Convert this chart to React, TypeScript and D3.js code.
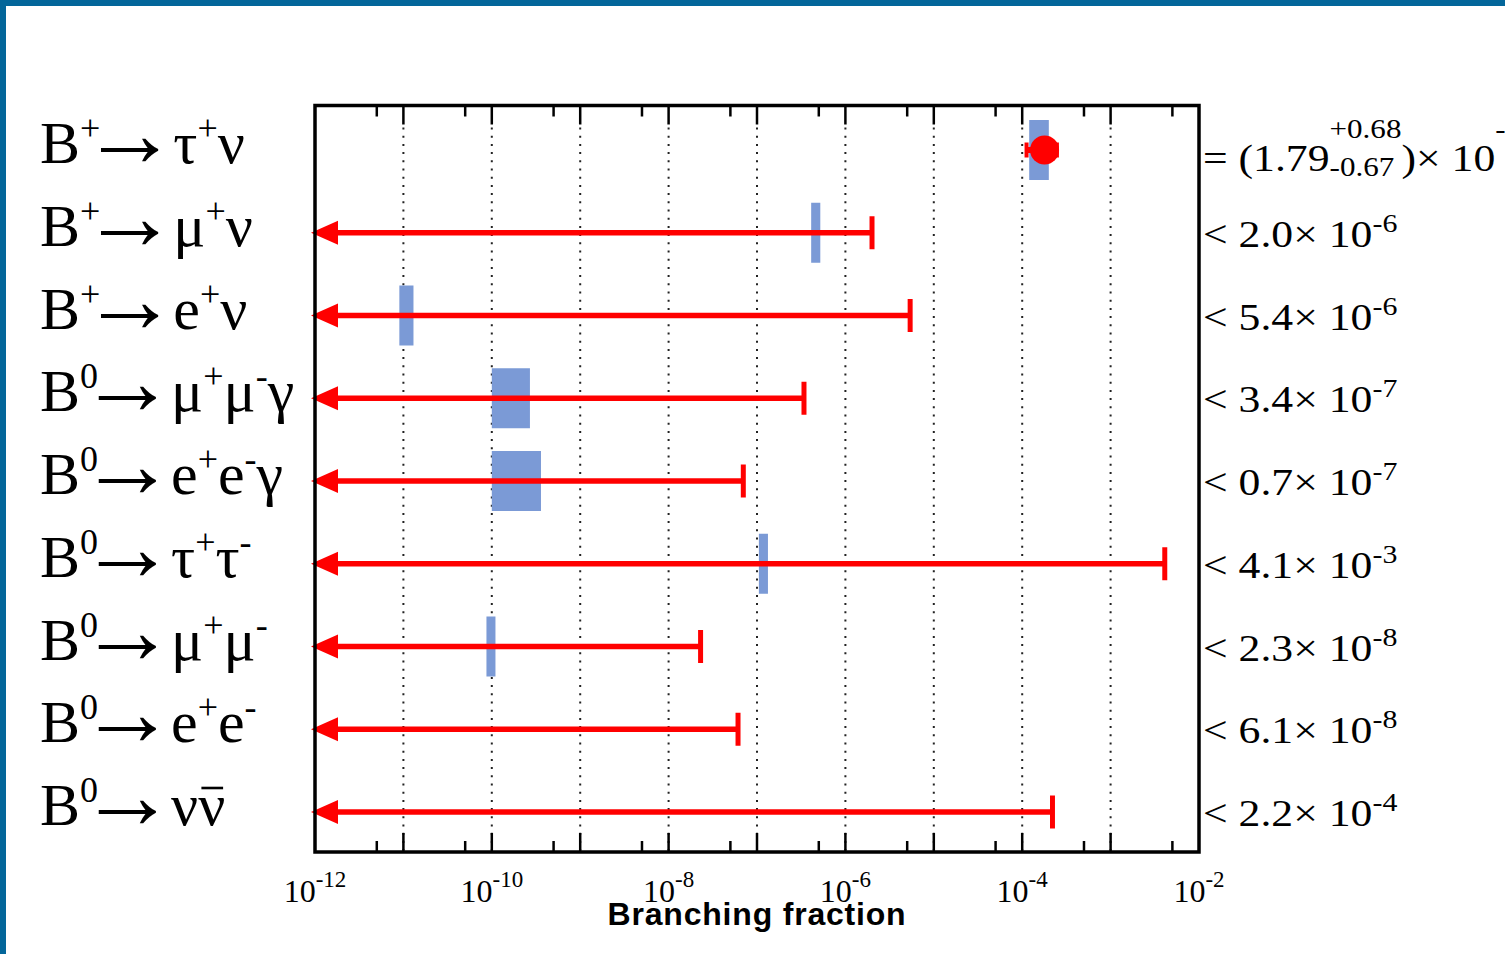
import React from "react";
import * as d3 from "d3";

// ---- data ---------------------------------------------------------------
type Seg = {
  t: string;
  s?: "sup" | "sub";
  bar?: boolean;
  stack?: [string, string];
  arrow?: boolean;
};

const ARROW: Seg = { t: "→", arrow: true };

const decayLabels: Seg[][] = [
  [{ t: "B" }, { t: "+", s: "sup" }, ARROW, { t: " τ" }, { t: "+", s: "sup" }, { t: "ν" }],
  [{ t: "B" }, { t: "+", s: "sup" }, ARROW, { t: " μ" }, { t: "+", s: "sup" }, { t: "ν" }],
  [{ t: "B" }, { t: "+", s: "sup" }, ARROW, { t: " e" }, { t: "+", s: "sup" }, { t: "ν" }],
  [{ t: "B" }, { t: "0", s: "sup" }, ARROW, { t: " μ" }, { t: "+", s: "sup" }, { t: "μ" }, { t: "-", s: "sup" }, { t: "γ" }],
  [{ t: "B" }, { t: "0", s: "sup" }, ARROW, { t: " e" }, { t: "+", s: "sup" }, { t: "e" }, { t: "-", s: "sup" }, { t: "γ" }],
  [{ t: "B" }, { t: "0", s: "sup" }, ARROW, { t: " τ" }, { t: "+", s: "sup" }, { t: "τ" }, { t: "-", s: "sup" }],
  [{ t: "B" }, { t: "0", s: "sup" }, ARROW, { t: " μ" }, { t: "+", s: "sup" }, { t: "μ" }, { t: "-", s: "sup" }],
  [{ t: "B" }, { t: "0", s: "sup" }, ARROW, { t: " e" }, { t: "+", s: "sup" }, { t: "e" }, { t: "-", s: "sup" }],
  [{ t: "B" }, { t: "0", s: "sup" }, ARROW, { t: " ν" }, { t: "ν", bar: true }],
];

// 90% CL upper limits (mantissa, exponent); first row is a measurement
const limitMantissa: (string | null)[] = [null, "2.0", "5.4", "3.4", "0.7", "4.1", "2.3", "6.1", "2.2"];
const limitExponent: (number | null)[] = [null, -6, -6, -7, -7, -3, -8, -8, -4];

// measured B+ -> tau+ nu
const measRow = 0;
const measCentral = "1.79";
const measPlus = "0.68";
const measMinus = "0.67";
const measExponent = -4;

// Standard Model expectation ranges
const smLow: (number | null)[] = [1.2e-4, 4.1e-7, 0.9e-11, 1.0e-10, 1.0e-10, 1.05e-7, 0.87e-10, null, null];
const smHigh: (number | null)[] = [2.0e-4, 5.2e-7, 1.3e-11, 2.7e-10, 3.6e-10, 1.33e-7, 1.1e-10, null, null];

const xTickExponents = [-12, -10, -8, -6, -4, -2];
const xTitle = "Branching fraction";

// ---- styling --------------------------------------------------------------
const W = 1505;
const H = 954;
const SERIF = "'Liberation Serif', 'Times New Roman', serif";
const SANS = "'Liberation Sans', Arial, sans-serif";
const RED = "#ff0000";
const SM_BLUE = "#7b9ad6";
const PAGE_BLUE = "#03669a";

// reaction arrow geometry inside the decay labels
const ARROW_INK_W = 58;
const ARROW_LIFT = 13;

let ctx: CanvasRenderingContext2D | null = null;
function getCtx() {
  if (!ctx) ctx = document.createElement("canvas").getContext("2d");
  return ctx;
}
function textWidth(t: string, size: number, family = SERIF, weight = "normal") {
  const c = getCtx();
  if (!c) return t.length * size * 0.5;
  c.font = `${weight} ${size}px ${family}`;
  return c.measureText(t).width;
}
function inkBox(t: string, size: number, family = SERIF) {
  const c = getCtx();
  if (!c) return { l: 0, r: size * 0.6, a: size * 0.3, d: 0 };
  c.font = `normal ${size}px ${family}`;
  const m = c.measureText(t);
  return {
    l: -m.actualBoundingBoxLeft,
    r: m.actualBoundingBoxRight,
    a: m.actualBoundingBoxAscent,
    d: m.actualBoundingBoxDescent,
  };
}

type Item = { t: string; x: number; dy: number; size: number; bar?: boolean; w: number };

function layout(
  segs: Seg[],
  size: number,
  supSize: number,
  supRaise: number,
  subLower: number
): Item[] {
  const items: Item[] = [];
  let x = 0;
  for (const s of segs) {
    if (s.stack) {
      const w1 = textWidth(s.stack[0], supSize);
      const w2 = textWidth(s.stack[1], supSize);
      items.push({ t: s.stack[0], x, dy: -supRaise, size: supSize, w: w1 });
      items.push({ t: s.stack[1], x, dy: subLower, size: supSize, w: w2 });
      x += Math.max(w1, w2);
      continue;
    }
    if (s.arrow) {
      // scale the arrow glyph so its ink spans ARROW_INK_W
      const ref = inkBox(s.t, 100);
      const k = ARROW_INK_W / Math.max(1, ref.r - ref.l);
      const sz = 100 * k;
      const b = inkBox(s.t, sz);
      const dy = (b.a - b.d) / 2 - ARROW_LIFT;
      items.push({ t: s.t, x: x - b.l, dy, size: sz, w: ARROW_INK_W });
      x += ARROW_INK_W;
      continue;
    }
    const sz = s.s ? supSize : size;
    const dy = s.s === "sup" ? -supRaise : s.s === "sub" ? subLower : 0;
    const w = textWidth(s.t, sz);
    items.push({ t: s.t, x, dy, size: sz, bar: s.bar, w });
    x += w;
  }
  return items;
}

function RichText({
  items,
  x,
  y,
  sx = 1,
  barLift = 0,
}: {
  items: Item[];
  x: number;
  y: number;
  sx?: number;
  barLift?: number;
}) {
  return (
    <g transform={`translate(${x},${y}) scale(${sx},1)`} fontFamily={SERIF} fill="#000">
      {items.map((it, i) => (
        <g key={i}>
          <text x={it.x} y={it.dy} fontSize={it.size} style={{ whiteSpace: "pre" }}>
            {it.t}
          </text>
          {it.bar && (
            <line
              x1={it.x + it.w * 0.12}
              x2={it.x + it.w * 0.92}
              y1={it.dy - barLift}
              y2={it.dy - barLift}
              stroke="#000"
              strokeWidth={2.6}
            />
          )}
        </g>
      ))}
    </g>
  );
}

export default function App() {
  const left = 315;
  const right = 1199;
  const top = 105.5;
  const bottom = 852;

  const x = d3.scaleLog().domain([1e-12, 1e-2]).range([left, right]);
  const rows = d3.range(decayLabels.length);
  const y = d3.scalePoint<number>().domain(rows).range([150, 812]);

  const majors = d3.range(-11, -2).map((e) => Math.pow(10, e));
  const minors = d3.range(-12, -2).map((e) => 5 * Math.pow(10, e));

  const limits = rows.map((i) =>
    limitMantissa[i] != null ? Number(limitMantissa[i]) * Math.pow(10, limitExponent[i] as number) : null
  );
  const central = Number(measCentral) * Math.pow(10, measExponent);
  const errLo = central - Number(measMinus) * Math.pow(10, measExponent);
  const errHi = central + Number(measPlus) * Math.pow(10, measExponent);

  const x0 = x(1e-12);

  return (
    <svg
      width={W}
      height={H}
      viewBox={`0 0 ${W} ${H}`}
      style={{ position: "absolute", left: 0, top: 0, background: "#fff" }}
    >
      <rect x={0} y={0} width={W} height={H} fill="#fff" />
      <rect x={0} y={0} width={W} height={6} fill={PAGE_BLUE} />
      <rect x={0} y={0} width={6} height={H} fill={PAGE_BLUE} />

      {/* dotted decade grid */}
      {majors.map((v, i) => (
        <line
          key={`g${i}`}
          x1={x(v)}
          x2={x(v)}
          y1={top + 22}
          y2={bottom - 2}
          stroke="#222"
          strokeWidth={2}
          strokeDasharray="2 6.2"
        />
      ))}

      {/* SM expectation bands */}
      {rows.map((i) =>
        smLow[i] != null && smHigh[i] != null ? (
          <rect
            key={`sm${i}`}
            x={x(smLow[i] as number)}
            width={x(smHigh[i] as number) - x(smLow[i] as number)}
            y={(y(i) as number) - 30}
            height={60}
            fill={SM_BLUE}
          />
        ) : null
      )}

      {/* upper-limit arrows */}
      {rows.map((i) => {
        const lim = limits[i];
        if (lim == null) return null;
        const yy = y(i) as number;
        const xe = x(lim);
        return (
          <g key={`ul${i}`}>
            <line x1={x0 + 20} x2={xe} y1={yy} y2={yy} stroke={RED} strokeWidth={5.5} />
            <line x1={xe} x2={xe} y1={yy - 16.5} y2={yy + 16.5} stroke={RED} strokeWidth={5} />
            <path
              d={`M${x0 - 4},${yy} L${x0 + 23},${yy - 12} L${x0 + 23},${yy + 12} Z`}
              fill={RED}
            />
          </g>
        );
      })}

      {/* measured value with error bar */}
      {(() => {
        const yy = y(measRow) as number;
        return (
          <g>
            <line x1={x(errLo)} x2={x(errHi)} y1={yy} y2={yy} stroke={RED} strokeWidth={6} />
            <line x1={x(errLo)} x2={x(errLo)} y1={yy - 7.5} y2={yy + 7.5} stroke={RED} strokeWidth={4} />
            <line x1={x(errHi)} x2={x(errHi)} y1={yy - 7.5} y2={yy + 7.5} stroke={RED} strokeWidth={4} />
            <circle cx={x(central)} cy={yy} r={14.5} fill={RED} />
          </g>
        );
      })()}

      {/* ticks */}
      {majors.map((v, i) => (
        <g key={`mt${i}`} stroke="#000" strokeWidth={2.5}>
          <line x1={x(v)} x2={x(v)} y1={top} y2={top + 19} />
          <line x1={x(v)} x2={x(v)} y1={bottom} y2={bottom - 19} />
        </g>
      ))}
      {minors.map((v, i) => (
        <g key={`nt${i}`} stroke="#000" strokeWidth={2.5}>
          <line x1={x(v)} x2={x(v)} y1={top} y2={top + 11} />
          <line x1={x(v)} x2={x(v)} y1={bottom} y2={bottom - 11} />
        </g>
      ))}

      {/* frame */}
      <rect
        x={left}
        y={top}
        width={right - left}
        height={bottom - top}
        fill="none"
        stroke="#000"
        strokeWidth={3.5}
      />

      {/* x tick labels */}
      {xTickExponents.map((e) => {
        const items = layout([{ t: "10" }, { t: String(e), s: "sup" }], 32, 23, 15, 0);
        const total = items.reduce((a, it) => Math.max(a, it.x + it.w), 0);
        return <RichText key={`xl${e}`} items={items} x={x(Math.pow(10, e)) - total / 2} y={902} />;
      })}

      {/* axis title */}
      <text
        x={(left + right) / 2}
        y={925}
        textAnchor="middle"
        fontFamily={SANS}
        fontWeight="bold"
        fontSize={32}
        letterSpacing={0.8}
        fill="#000"
      >
        {xTitle}
      </text>

      {/* decay mode labels */}
      {rows.map((i) => (
        <RichText
          key={`dl${i}`}
          items={layout(decayLabels[i], 60, 36, 23, 0)}
          x={40}
          y={(y(i) as number) + 13}
          barLift={37}
        />
      ))}

      {/* limit / measurement values */}
      {rows.map((i) => {
        const yy = y(i) as number;
        if (i === measRow) {
          const items = layout(
            [
              { t: "= (" + measCentral },
              { t: "", stack: ["+" + measPlus, "-" + measMinus] },
              { t: ")× 10" },
              { t: String(measExponent), s: "sup" },
            ],
            38,
            27,
            33,
            5
          );
          return <RichText key={`rv${i}`} items={items} x={right + 4} y={yy + 21} sx={1.15} />;
        }
        const items = layout(
          [
            { t: "< " + limitMantissa[i] + "× 10" },
            { t: String(limitExponent[i]), s: "sup" },
          ],
          38,
          26,
          15,
          0
        );
        return <RichText key={`rv${i}`} items={items} x={right + 4} y={yy + 14} sx={1.15} />;
      })}
    </svg>
  );
}
